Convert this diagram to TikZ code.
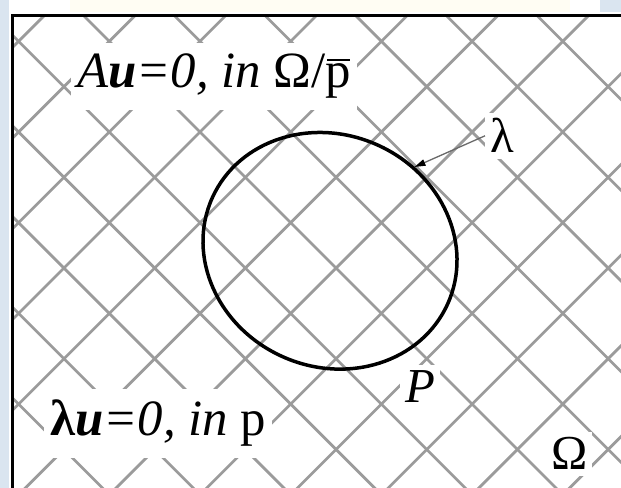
\documentclass[tikz,border=0pt]{standalone}
\usepackage{fontspec}
\setmainfont{Liberation Serif}
\usetikzlibrary{arrows.meta}
\definecolor{gridgray}{RGB}{155,155,155}
\definecolor{arrowgray}{RGB}{105,105,105}
\definecolor{edgeblue}{RGB}{218,229,240}
\definecolor{topyellow}{RGB}{255,253,243}
\newcommand\pbarglyph{\leavevmode\rlap{\hspace{0.03em}\rule[0.53em]{0.44em}{0.05em}}p}
\begin{document}
\begin{tikzpicture}[x=1bp,y=1bp,
  hatch/.style={draw=gridgray,line width=2.7bp},
  lbl/.style={fill=white,inner xsep=6bp,inner ysep=11bp,anchor=base west,font=\fontsize{51}{54}\selectfont},
  letter/.style={fill=white,inner xsep=5bp,inner ysep=6bp,anchor=base west,font=\fontsize{49}{52}\selectfont},
  outline/.style={line width=3.5bp},
  pointer/.style={draw=arrowgray,line width=1.3bp,-{Triangle[length=11bp,width=6.5bp,black]}}]
\useasboundingbox (0,0) rectangle (621,488);
\fill[white] (0,0) rectangle (621,488);
\fill[edgeblue] (0,0) rectangle (9,488);
\fill[topyellow] (70,476) rectangle (570,488);
\fill[edgeblue] (600,476) rectangle (621,488);
% hatch grid
\begin{scope}
  \clip (13.75,0) rectangle (621,471);
  \foreach \k in {-8,...,10}{
    \draw[hatch] ({-156+90.7*\k-50},-50) -- ({-156+90.7*\k+550},550);
  }
  \foreach \k in {-8,...,8}{
    \draw[hatch] ({556+90.7*\k+50},-50) -- ({556+90.7*\k-550},550);
  }
\end{scope}
% frame
\draw[line width=2.5bp,line join=miter] (12.5,-10) |- (640,472.3);
% labels
\node[lbl] (eqA) at (71,400) {\textit{A\textbf{u}=0, in} Ω/\pbarglyph};
\node[lbl] (eqL) at (44,52) {\textbf{λ\textit{u}}\textit{=0, in} p};
\node[letter] (lblP) at (400,85) {\textit{P}};
\node[letter] (lblO) at (546,18) {Ω};
\node[letter] (lam) at (485,335) {λ};
% boundary curve
\draw[outline] (330,237.2) ellipse [x radius=129.1bp, y radius=116bp, rotate=-24.2];
\coordinate (tip) at (414.5,321);
\draw[pointer] (lam.west) -- (tip);
\end{tikzpicture}
\end{document}
